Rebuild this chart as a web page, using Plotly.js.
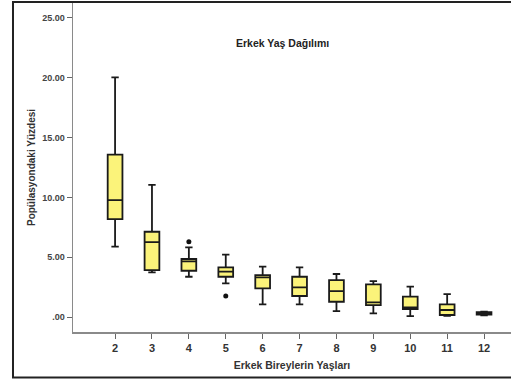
<!DOCTYPE html>
<html>
<head>
<meta charset="utf-8">
<script src="https://cdn.plot.ly/plotly-3.0.1.min.js"></script>
<style>html,body{margin:0;padding:0;background:#fff;}#chart{width:511px;height:380px;}</style>
</head>
<body>
<div id="chart"></div>
<script>
// Ages (categories)
var ages = [2, 3, 4, 5, 6, 7, 8, 9, 10, 11, 12];
var ageLabels = ["2", "3", "4", "5", "6", "7", "8", "9", "10", "11", "12"];
// Box statistics (percent)
var lowerWhisker = [5.88, 3.74, 3.37, 2.81, 1.06, 1.06, 0.50, 0.31, 0.08, 0.10, 0.14];
var q1Values     = [8.19, 3.93, 3.87, 3.37, 2.40, 1.76, 1.28, 1.00, 0.67, 0.17, 0.20];
var medianValues = [9.78, 6.27, 4.66, 3.79, 3.32, 2.48, 2.17, 1.23, 0.81, 0.59, 0.30];
var q3Values     = [13.57, 7.13, 4.85, 4.15, 3.51, 3.37, 3.09, 2.73, 1.70, 1.06, 0.40];
var upperWhisker = [20.04, 11.04, 5.83, 5.21, 4.21, 4.15, 3.60, 3.01, 2.54, 1.92, 0.46];
// Outliers
var outlierAges = [4, 5];
var outlierValues = [6.30, 1.76];
// Y axis ticks
var yTickVals = [0, 5, 10, 15, 20, 25];
var yTickText = [".00", "5.00", "10.00", "15.00", "20.00", "25.00"];

var boxTrace = {
  type: 'box',
  x: ages,
  q1: q1Values,
  median: medianValues,
  q3: q3Values,
  lowerfence: lowerWhisker,
  upperfence: upperWhisker,
  width: 0.4,
  whiskerwidth: 0.5,
  fillcolor: '#fbf37a',
  line: {color: '#1a1a1a', width: 1.8},
  boxpoints: false,
  hoverinfo: 'skip',
  showlegend: false
};
var outlierTrace = {
  type: 'scatter',
  mode: 'markers',
  x: outlierAges,
  y: outlierValues,
  marker: {color: '#111', size: 5},
  hoverinfo: 'skip',
  showlegend: false
};

var layout = {
  width: 511, height: 380,
  margin: {l: 73, r: 0, t: 3, b: 48},
  paper_bgcolor: '#fff', plot_bgcolor: '#fff',
  font: {family: 'Liberation Sans, Arial, sans-serif', color: '#333'},
  xaxis: {
    range: [0.86, 12.73],
    tickvals: ages, ticktext: ageLabels,
    showgrid: false, zeroline: false,
    showline: true, linecolor: '#8a8a8a', linewidth: 1.5,
    ticks: 'outside', ticklen: 5, tickcolor: '#666', tickwidth: 1,
    tickfont: {size: 11, color: '#333', weight: 'bold'},
    title: {text: 'Erkek Bireylerin Yaşları', font: {size: 10.5, color: '#333', weight: 'bold'}, standoff: 9}
  },
  yaxis: {
    range: [-1.25, 26.25],
    tickvals: yTickVals, ticktext: yTickText,
    showgrid: false, zeroline: false,
    showline: true, linecolor: '#8a8a8a', linewidth: 1.5,
    ticks: 'outside', ticklen: 5, tickcolor: '#666', tickwidth: 1,
    tickfont: {size: 9, color: '#444', weight: 'bold'},
    title: {text: 'Popülasyondaki Yüzdesi', font: {size: 10, color: '#333', weight: 'bold'}, standoff: 4}
  },
  annotations: [{
    xref: 'paper', yref: 'paper', x: 0.479, y: 0.903,
    text: 'Erkek Yaş Dağılımı', showarrow: false,
    font: {size: 10.5, color: '#222', weight: 'bold'}
  }],
  shapes: [{
    type: 'rect', xref: 'paper', yref: 'paper',
    x0: -0.137, x1: 1.05, y0: -0.138, y1: 1.003,
    line: {color: '#222', width: 2}, fillcolor: 'rgba(0,0,0,0)'
  }]
};

Plotly.newPlot('chart', [boxTrace, outlierTrace], layout, {displayModeBar: false, staticPlot: true});
</script>
</body>
</html>
